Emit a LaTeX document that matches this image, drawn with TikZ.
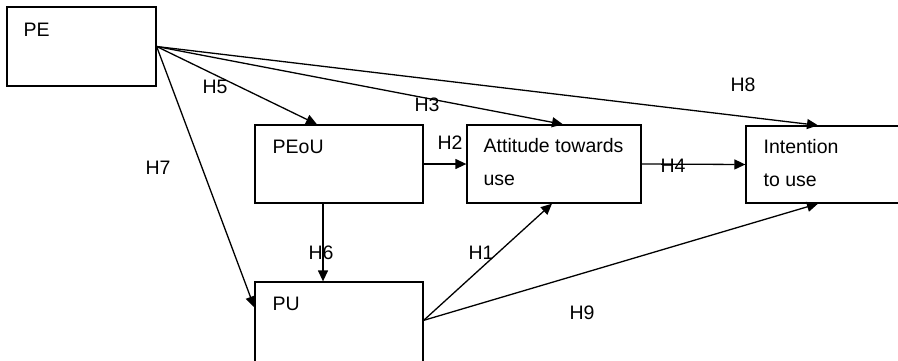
\documentclass[tikz,border=0pt]{standalone}
\usepackage{fontspec}
\setmainfont{Liberation Sans}
\usetikzlibrary{calc}
\usetikzlibrary{arrows.meta}

\tikzset{
  factor/.style={draw, rectangle, inner sep=0pt},
  txt/.style={anchor=north west, inner sep=0pt, align=left},
  hyp/.style={inner sep=0pt},
}

\begin{document}
\begin{tikzpicture}[x=1pt, y=-1pt, line width=1.3pt, >={Triangle[length=11pt,width=10pt]}, font=\fontsize{19.5}{33}\selectfont]
\useasboundingbox (0,0) rectangle (898,360);
\fill[white] (0,0) rectangle (898,360);
\clip (0,0) rectangle (898,360);
% boxes
\node[factor, minimum width=149pt, minimum height=79pt] (pe) at (81.5,46.5) {};
\node[factor, minimum width=168pt, minimum height=78pt] (peou) at (339,164) {};
\node[factor, minimum width=174pt, minimum height=78pt] (att) at (554,164) {};
\node[factor, minimum width=164pt, minimum height=77pt] (int) at (828,164.5) {};
\node[factor, minimum width=168pt, minimum height=90pt] (pu) at (339,327) {};
% box texts
\node[txt] (pe-t) at (23,22) {PE};
\node[txt] (peou-t) at (272,139) {PEoU};
\node[txt] (att-t) at (483,138) {Attitude towards\\use};
\node[txt] (int-t) at (763,139) {Intention\\to use};
\node[txt] (pu-t) at (272,296) {PU};
% hypotheses
\coordinate (pu-out) at ($(pu.north east)+(0,39)$);
\draw[->] (pe.east) -- ([xshift=-22pt]peou.north);
\draw[->] (pe.east) -- ([xshift=9pt]att.north);
\draw[->] (pe.east) -- ([xshift=-10pt]int.north);
\draw[->] (pe.east) -- ($(pu.north west)+(0,26)$);
\draw[->] (peou.east) -- (att.west);
\draw[->] ([xshift=-16pt]peou.south) -- ([xshift=-16pt]pu.north);
\draw[->] (att.east) -- (int.west);
\draw[->] (pu-out) -- ([xshift=-2pt]att.south);
\draw[->] (pu-out) -- ([xshift=-10pt]int.south);
\node[hyp] (h1) at (481,253) {H1};
\node[hyp] (h2) at (450,143) {H2};
\node[hyp] (h3) at (427,105) {H3};
\node[hyp] (h4) at (673,166) {H4};
\node[hyp] (h5) at (215,87) {H5};
\node[hyp] (h6) at (321,253) {H6};
\node[hyp] (h7) at (158,168) {H7};
\node[hyp] (h8) at (743,85) {H8};
\node[hyp] (h9) at (582,313) {H9};
\end{tikzpicture}
\end{document}
